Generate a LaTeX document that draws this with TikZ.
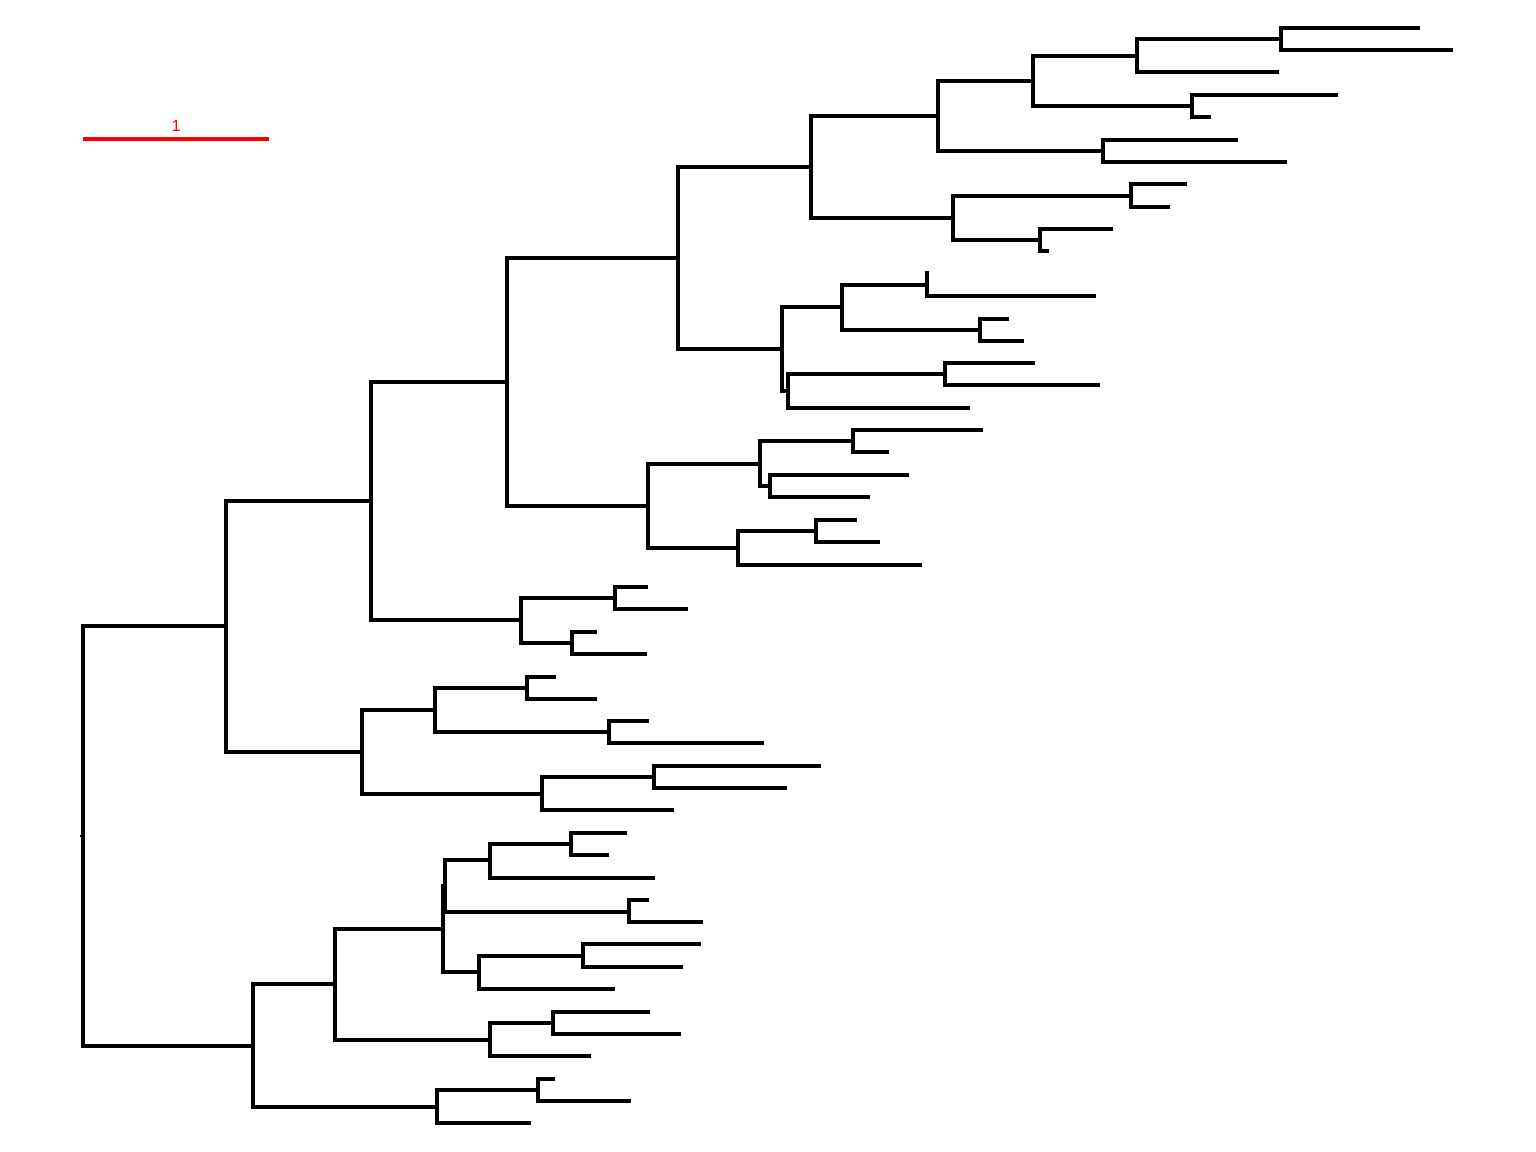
\documentclass[tikz,border=0pt]{standalone}
\usepackage{fontspec}
\setsansfont{Liberation Sans}
\usepackage{tikz}

\begin{document}
\begin{tikzpicture}[x=0.01cm, y=-0.01cm,
    branch/.style={line width=0.95pt, black},
    scalebar/.style={line width=1.05pt, red}]
    \useasboundingbox (0,0) rectangle (1536,1152);
    % inner nodes of the tree
    \foreach \n/\x/\y in {root/83/836, A/226/626, B/253/1046, C/371/501, D/362/752,
        E/507/382, F/521/620, G/678/258, H/648/506, I/811/167, J/782/349,
        L/938/116, M/953/218, N/1033/81, O/1103/151, P/1137/56, Q/1192/106,
        R/1281/39, S/1131/196, T/1040/240, U/842/307, K/788/391, V/927/285,
        W/980/330, X/945/374, Y/760/464, AB/738/548, Z/853/441, AA/770/486,
        AC/816/531, AD/615/598, AE/572/643, AF/435/710, AI/542/794, AG/527/688,
        AH/609/732, AJ/654/777, AK/335/984, AU/437/1107, AL/443/929, AS/490/1040,
        AM/445/886, AQ/479/972, AN/490/860, AP/629/912, AO/571/844, AR/583/956,
        AT/553/1023, AV/538/1090}
      \coordinate (\n) at (\x,\y);
    % leaf tips
    \foreach \n/\x/\y in {r1/1420/28, r2/1453/50, p2/1279/72, q1/1338/95, q2/1211/117,
        o1/1238/140, o2/1287/162, s1/1187/184, s2/1170/207, t1/1113/229, t2/1049/251,
        v1/929/273, v2/1096/296, w1/1009/319, w2/1024/341, x1/1035/363, x2/1100/385,
        k2/970/408, z1/983/430, z2/889/452, aa1/909/475, aa2/870/497, ac1/857/520,
        ac2/880/542, ab2/922/565, ad1/648/587, ad2/688/609, ae1/597/632, ae2/647/654,
        ag1/556/677, ag2/597/699, ah1/649/721, ah2/764/743, aj1/821/766, aj2/787/788,
        ai2/674/810, ao1/627/833, ao2/609/855, an2/655/878, ap1/649/900, ap2/703/922,
        ar1/701/944, ar2/683/967, aq2/615/989, at1/650/1012, at2/681/1034,
        as2/591/1056, av1/555/1079, av2/631/1101, au2/531/1123}
      \coordinate (\n) at (\x,\y);
    \coordinate (rootstub) at (80,836);

    % branches, parent to child
    \draw[black, line width=0.4pt] (rootstub) -- (root);
    \foreach \p/\c in {root/A, root/B, A/C, A/D, C/E, C/F, E/G, E/H, G/I, G/J,
        I/L, I/M, L/N, L/O, N/P, N/Q, P/R, P/p2, R/r1, R/r2, Q/q1, Q/q2,
        O/o1, O/o2, M/S, M/T, S/s1, S/s2, T/t1, T/t2,
        J/U, J/K, U/V, U/W, V/v1, V/v2, W/w1, W/w2, K/X, K/k2, X/x1, X/x2,
        H/Y, H/AB, Y/Z, Y/AA, Z/z1, Z/z2, AA/aa1, AA/aa2, AB/AC, AB/ab2,
        AC/ac1, AC/ac2, F/AD, F/AE, AD/ad1, AD/ad2, AE/ae1, AE/ae2,
        D/AF, D/AI, AF/AG, AF/AH, AG/ag1, AG/ag2, AH/ah1, AH/ah2,
        AI/AJ, AI/ai2, AJ/aj1, AJ/aj2,
        B/AK, B/AU, AK/AL, AK/AS, AL/AM, AL/AQ, AM/AN, AM/AP, AN/AO, AN/an2,
        AO/ao1, AO/ao2, AP/ap1, AP/ap2, AQ/AR, AQ/aq2, AR/ar1, AR/ar2,
        AS/AT, AS/as2, AT/at1, AT/at2, AU/AV, AU/au2, AV/av1, AV/av2}
      \draw[branch] (\p) |- (\c);

    % scale bar
    \coordinate (sb0) at (83,139);
    \coordinate (sb1) at (269,139);
    \draw[scalebar] (sb0) -- (sb1)
      node[midway, above=1.6pt, text=red, inner sep=0pt,
           font=\sffamily\fontsize{4.6}{5}\selectfont] {1};
\end{tikzpicture}
\end{document}
